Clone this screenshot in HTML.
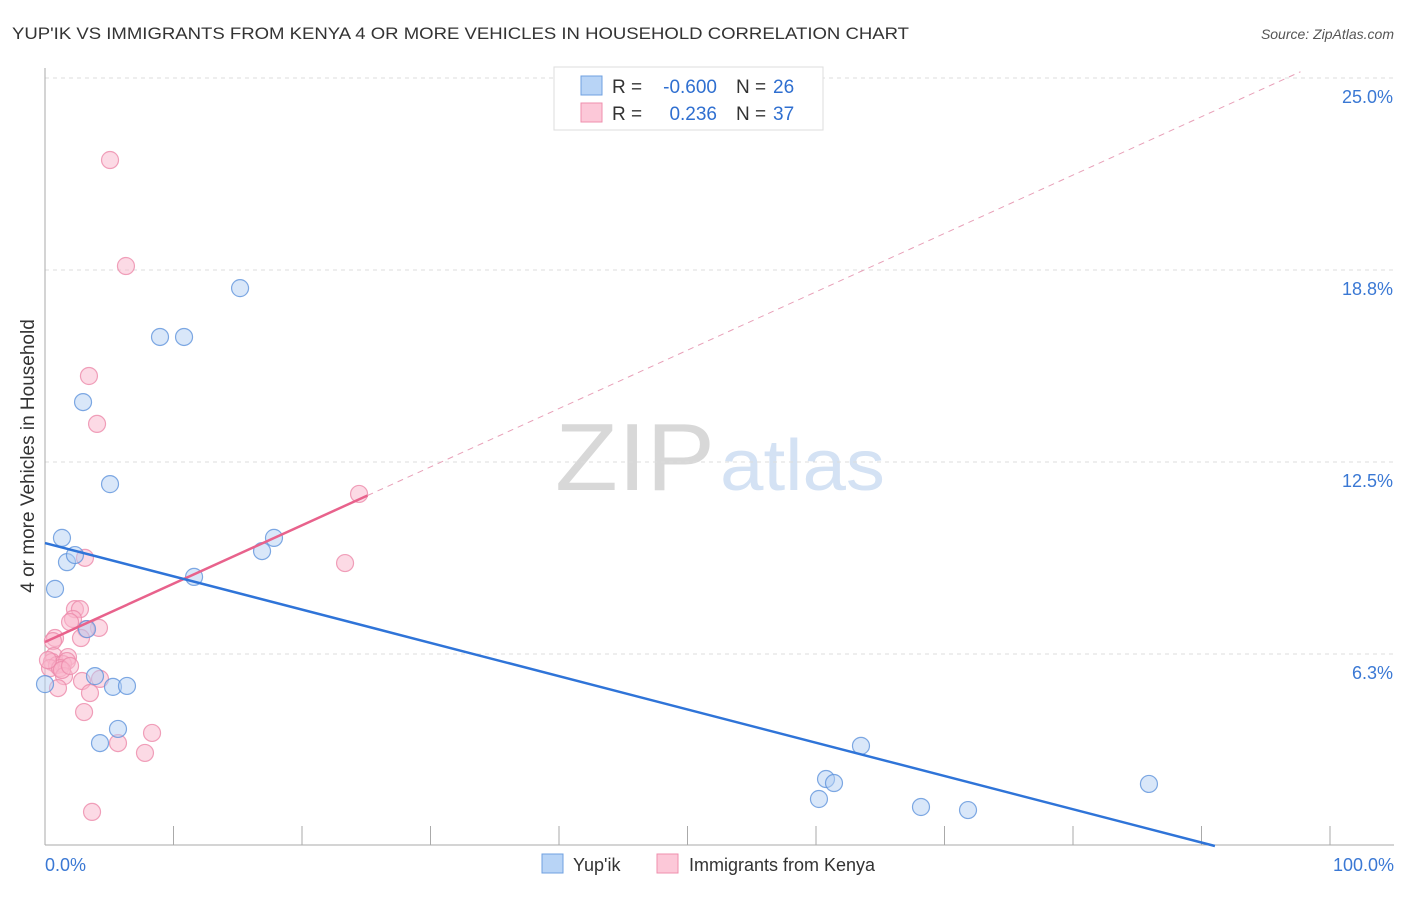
<!DOCTYPE html>
<html><head><meta charset="utf-8"><style>
body{margin:0;background:#fff;font-family:"Liberation Sans",sans-serif}
svg text{font-family:"Liberation Sans",sans-serif}
</style></head><body>
<svg width="1406" height="892" viewBox="0 0 1406 892" xmlns="http://www.w3.org/2000/svg" id="chart">
<text x="12" y="39" font-size="17" fill="#333" textLength="897" lengthAdjust="spacingAndGlyphs">YUP'IK VS IMMIGRANTS FROM KENYA 4 OR MORE VEHICLES IN HOUSEHOLD CORRELATION CHART</text>
<text x="1394" y="39" font-size="14" fill="#555" text-anchor="end" font-style="italic">Source: ZipAtlas.com</text>
<text x="555" y="490" font-size="96" fill="#d8d8d8" font-family="Liberation Serif" textLength="160" lengthAdjust="spacingAndGlyphs">ZIP</text>
<text x="720" y="490" font-size="72" fill="#d4e2f4" textLength="165" lengthAdjust="spacingAndGlyphs">atlas</text>
<text transform="translate(34,456) rotate(-90)" font-size="19" fill="#333" text-anchor="middle">4 or more Vehicles in Household</text>
<g id="grid"></g><g id="axes"></g><g id="marks"></g>
<g>
<rect x="554" y="67" width="269" height="63" fill="#fff" stroke="#ddd"/>
<rect x="581" y="76" width="21" height="19" fill="#b8d4f6" stroke="#6fa0e0"/>
<rect x="581" y="103" width="21" height="19" fill="#fcc8d8" stroke="#ef8fae"/>
<text x="612" y="93" font-size="19" fill="#333">R =</text>
<text x="717" y="93" font-size="19" fill="#2f6fd0" text-anchor="end">-0.600</text>
<text x="736" y="93" font-size="19" fill="#333">N =</text>
<text x="773" y="93" font-size="19" fill="#2f6fd0">26</text>
<text x="612" y="120" font-size="19" fill="#333">R =</text>
<text x="717" y="120" font-size="19" fill="#2f6fd0" text-anchor="end">0.236</text>
<text x="736" y="120" font-size="19" fill="#333">N =</text>
<text x="773" y="120" font-size="19" fill="#2f6fd0">37</text>
</g>
<g>
<rect x="542" y="854" width="21" height="19" fill="#b8d4f6" stroke="#6fa0e0"/>
<text x="573" y="871" font-size="18" fill="#333">Yup'ik</text>
<rect x="657" y="854" width="21" height="19" fill="#fcc8d8" stroke="#ef8fae"/>
<text x="689" y="871" font-size="18" fill="#333">Immigrants from Kenya</text>
</g>
</svg>
<script>
const yTicks=[25,18.75,12.5,6.25];
const yTickLabels=["25.0%","18.8%","12.5%","6.3%"];
const xTickLabels=["0.0%","100.0%"];
const blueX=[0,0.78,1.32,1.71,2.33,2.96,3.27,3.89,4.28,5.06,5.29,5.68,6.38,8.95,10.82,11.6,15.18,16.89,17.82,60.23,60.78,61.4,63.5,68.17,71.83,85.91];
const blueY=[5.27,8.37,10.03,9.24,9.47,14.45,7.06,5.53,3.35,11.78,5.18,3.81,5.21,16.57,16.57,8.76,18.16,9.6,10.03,1.53,2.18,2.05,3.26,1.27,1.17,2.02];
const pinkX=[5.06,6.3,3.42,4.05,24.44,23.35,3.11,2.33,2.72,2.18,1.95,4.2,3.19,2.8,0.78,0.62,0.7,1.79,0.54,0.93,1.4,1.71,0.39,1.17,1.48,1.01,2.88,4.28,3.5,3.04,5.68,8.33,7.78,3.66,0.23,1.32,1.95];
const pinkY=[22.33,18.88,15.3,13.74,11.46,9.21,9.38,7.71,7.71,7.39,7.29,7.1,7.06,6.77,6.77,6.67,6.18,6.15,5.99,5.89,5.92,6.02,5.79,5.79,5.53,5.14,5.37,5.44,4.98,4.36,3.35,3.68,3.03,1.11,6.05,5.73,5.86];
const blueTrend=[9.86,-0.1083];
const pinkTrend=[6.64,0.19];
const NS="http://www.w3.org/2000/svg";
const X=v=>45+v*12.85, Y=v=>846-v*30.72;
function mk(tag,attrs,parent){const e=document.createElementNS(NS,tag);for(const k in attrs)e.setAttribute(k,attrs[k]);document.getElementById(parent).appendChild(e);return e;}
yTicks.forEach((t,i)=>{
 const l=mk('line',{x1:45,x2:1394,y1:Y(t),y2:Y(t),stroke:'#ddd','stroke-dasharray':'4,4'},'grid');
 
 
 const tx=mk('text',{x:1393,y:Y(t)+25,'font-size':18,fill:'#3a78d4','text-anchor':'end'},'grid');
 tx.textContent=yTickLabels[i];
 
 
});
let a=mk('line',{x1:45,x2:45,y1:68,y2:845,stroke:'#aaa'},'axes');


a=mk('line',{x1:45,x2:1394,y1:845,y2:845,stroke:'#aaa'},'axes');


for(let i=0;i<=10;i++){const t=mk('line',{x1:X(i*10),x2:X(i*10),y1:826,y2:845,stroke:'#aaa'},'axes');
 
 }
[[0,'start',45],[100,'end',1394]].forEach((d,i)=>{const t=mk('text',{x:d[2],y:871,'font-size':18,fill:'#3a78d4','text-anchor':d[1]},'axes');t.textContent=xTickLabels[i];
 
 });
function pts(xs,ys,fill,stroke,name){xs.forEach((x,i)=>{const c=mk('circle',{cx:X(x),cy:Y(ys[i]),r:8.5,fill:fill,'fill-opacity':0.5,stroke:stroke,'stroke-opacity':0.8,'stroke-width':1.2},'marks');
 
 });}
pts(pinkX,pinkY,'#f9b6cb','#ec8aaa','kenya-point');
pts(blueX,blueY,'#b3cff3','#5f93dc','yupik-point');
let l=mk('line',{x1:X(25.1),y1:Y(pinkTrend[0]+pinkTrend[1]*25.1),x2:X(97.7),y2:Y(pinkTrend[0]+pinkTrend[1]*97.7),stroke:'#e8a0b8','stroke-dasharray':'6,5','stroke-width':1},'marks');


l=mk('line',{x1:X(0),y1:Y(pinkTrend[0]),x2:X(25.1),y2:Y(pinkTrend[0]+pinkTrend[1]*25.1),stroke:'#e8628c','stroke-width':2.5},'marks');


const bx=-blueTrend[0]/blueTrend[1];
l=mk('line',{x1:X(0),y1:Y(blueTrend[0]),x2:X(bx),y2:Y(0),stroke:'#2f74d8','stroke-width':2.5},'marks');


</script>
</body></html>
